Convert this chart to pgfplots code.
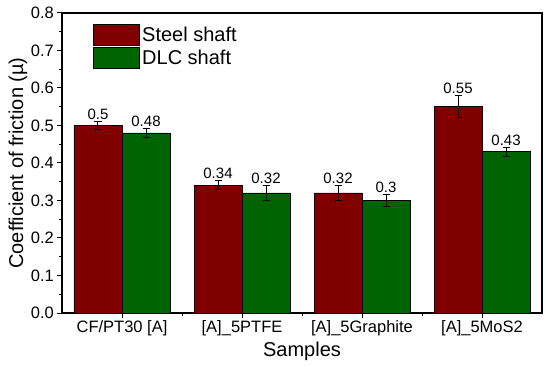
\documentclass[border=0pt]{standalone}
\usepackage{fontspec}
\setmainfont{Liberation Sans}
\usepackage{pgfplots}
\usepackage{pgfplotstable}
\usetikzlibrary{calc}
\pgfplotsset{compat=1.18}
\definecolor{steel}{RGB}{128,0,0}
\definecolor{dlc}{RGB}{0,100,0}
\pgfplotsset{boxlegend/.style={legend image code/.code={\draw[##1, draw=black, line width=0.8pt] (0pt,-10.5pt) rectangle (46pt,10.5pt);}}}

\pgfplotstableread{
x y err
0 0.50 0.010
1 0.34 0.012
2 0.32 0.021
3 0.55 0.030
}\steeltable
\pgfplotstableread{
x y err
0 0.48 0.012
1 0.32 0.021
2 0.30 0.015
3 0.43 0.012
}\dlctable

\begin{document}
\begin{tikzpicture}
\begin{axis}[
  scale only axis, width=480pt, height=300pt,
  ybar=0pt, bar width=48pt,
  xmin=-0.5, xmax=3.5, ymin=0, ymax=0.8,
  xtick={0,1,2,3},
  xticklabels={CF/PT30 [A], [A]\_5PTFE, [A]\_5Graphite, [A]\_5MoS2},
  minor xtick={0.5,1.5,2.5},
  ytick={0,0.1,0.2,0.3,0.4,0.5,0.6,0.7,0.8},
  minor ytick={0.05,0.15,0.25,0.35,0.45,0.55,0.65,0.75},
  yticklabel style={/pgf/number format/fixed, /pgf/number format/fixed zerofill, /pgf/number format/precision=1, inner sep=3pt},
  /pgf/number format/assume math mode=true,
  tick pos=left, tick align=outside,
  major tick length=5pt, minor tick length=3pt,
  tick style={black, line width=1pt},
  axis line style={line width=1.1pt},
  ticklabel style={font=\fontsize{16.5}{18}\selectfont},
  xticklabel style={inner sep=2pt},
  xlabel={Samples}, ylabel={Coefficient of friction (µ)},
  label style={font=\fontsize{20}{24}\selectfont},
  xlabel style={at={(axis description cs:0.5,-0.127)}, anchor=center},
  ylabel style={at={(axis description cs:-0.0917,0.5)}, anchor=center},
  legend style={at={(axis description cs:0.065,0.963)}, anchor=north west,
    draw=none, fill=none, font=\fontsize{20}{24}\selectfont,
    inner sep=0pt, row sep=1pt, legend cell align=left},
  nodes near coords,
  every node near coord/.append style={font=\fontsize{15}{17}\selectfont, black, anchor=south, inner sep=1.5pt, yshift=\errsh pt},
  visualization depends on={375*\thisrow{err} \as \errsh},
]
\addplot+[fill=steel, draw=black, line width=0.8pt, boxlegend,
  error bars/.cd, y dir=both, y explicit,
  error bar style={black, line width=1pt},
  error mark options={rotate=90, mark size=3.5pt, black, line width=1pt}]
  table[x=x, y=y, y error=err]{\steeltable};
\addlegendentry{Steel shaft}
\addplot+[fill=dlc, draw=black, line width=0.8pt, boxlegend,
  error bars/.cd, y dir=both, y explicit,
  error bar style={black, line width=1pt},
  error mark options={rotate=90, mark size=3.5pt, black, line width=1pt}]
  table[x=x, y=y, y error=err]{\dlctable};
\addlegendentry{DLC shaft}
\end{axis}
\pgfresetboundingbox
\path ($(current axis.south west)+(-62pt,-53pt)$) rectangle ($(current axis.north east)+(8pt,13pt)$);
\end{tikzpicture}
\end{document}
